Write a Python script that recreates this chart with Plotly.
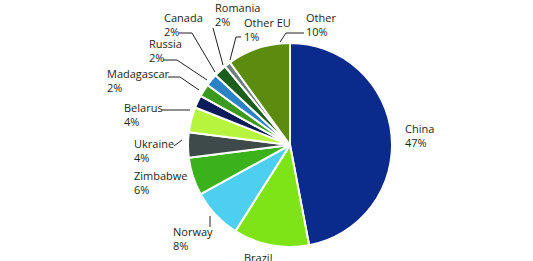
import plotly.graph_objects as go

# ---- data ----
countries = ["China", "Brazil", "Norway", "Zimbabwe", "Ukraine", "Belarus",
             "Madagascar", "Russia", "Canada", "Romania", "Other EU", "Other"]
shares = [47, 12, 8, 6, 4, 4, 2, 2, 2, 2, 1, 10]
colors = ["#0b2b8c", "#7ee417", "#4ccff0", "#3bb11b", "#3d4a49", "#b6f43e",
          "#0c1c5a", "#3b9a1e", "#2b82c6", "#1c5e1c", "#6f7f80", "#5b8c10"]

W, H = 533, 261
CX, CY, R = 290, 145, 102  # pie centre / radius in pixels (layout)

# label placement (left x, vertical middle y) in pixels – layout only
label_pos = {
    "China": (403, 135.5), "Brazil": (242, 264.5), "Norway": (171, 238.5),
    "Zimbabwe": (132, 182.5), "Ukraine": (132, 150.5), "Belarus": (122, 114.5),
    "Madagascar": (105, 80.5), "Russia": (147, 51), "Canada": (162, 24),
    "Romania": (213, 14.5), "Other EU": (242, 30), "Other": (304, 24),
}
# leader lines (pixel polylines) – layout only
leaders = [
    [(179, 33), (192, 33), (215, 72)],
    [(163, 60), (177, 60), (207, 80)],
    [(168, 77), (180, 77), (199, 90)],
    [(162, 110), (190, 110)],
    [(174, 146), (182, 140)],
    [(210, 216), (210, 227)],
    [(213, 28), (223, 65)],
    [(241, 37), (236, 37), (230, 60)],
    [(304, 33), (286, 33), (280, 42)],
]


def px(x):
    return x / W


def py(y):
    return 1 - y / H


fig = go.Figure(go.Pie(
    labels=countries, values=shares, sort=False, direction="clockwise",
    rotation=0, textinfo="none", hoverinfo="label+percent",
    marker=dict(colors=colors, line=dict(color="white", width=2)),
    domain=dict(x=[px(CX - R), px(CX + R)], y=[py(CY + R), py(CY - R)]),
    showlegend=False,
))

annotations = []
for name, val in zip(countries, shares):
    x, y = label_pos[name]
    annotations.append(dict(
        text=f"{name}<br>{val}%", x=px(x), y=py(y), xref="paper", yref="paper",
        xanchor="left", yanchor="middle", align="left", showarrow=False,
        font=dict(family="Open Sans", size=11, color="#231f20"),
    ))

shapes = []
for pts in leaders:
    path = "M " + " L ".join(f"{px(a):.5f} {py(b):.5f}" for a, b in pts)
    shapes.append(dict(type="path", path=path, xref="paper", yref="paper",
                       line=dict(color="#231f20", width=1)))

fig.update_layout(
    width=W, height=H, margin=dict(l=0, r=0, t=0, b=0),
    paper_bgcolor="white", plot_bgcolor="white",
    annotations=annotations, shapes=shapes,
)

fig.write_html("out.html")
